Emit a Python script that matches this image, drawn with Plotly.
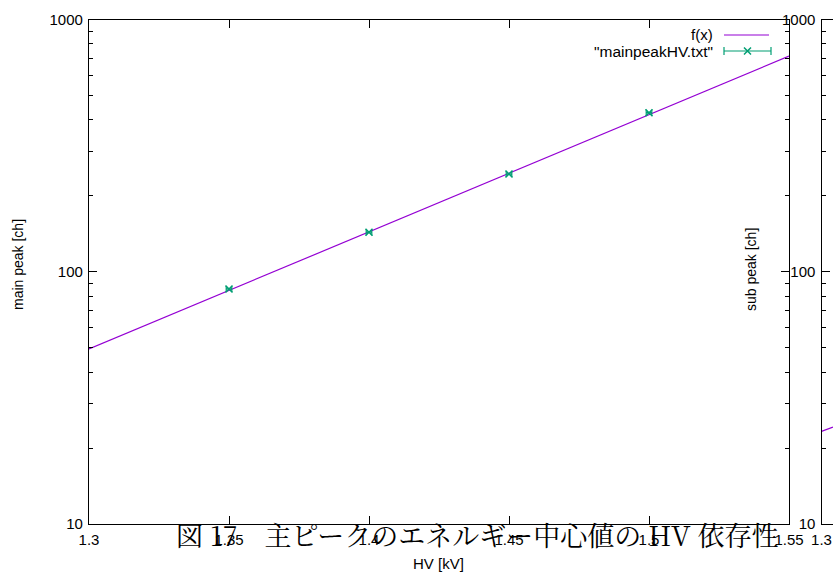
import plotly.graph_objects as go

# ---- data ----
hv = [1.35, 1.40, 1.45, 1.50]
main_peak = [85.5, 143.5, 244.0, 427.0]
hv_err = [0.001, 0.001, 0.001, 0.001]

fit_x = [1.30, 1.55]
fit_y = [49.4, 716.0]

sub_fit_x = [1.300, 1.3043]
sub_fit_y = [23.3, 24.2]

x_ticks = [1.3, 1.35, 1.4, 1.45, 1.5, 1.55]
x_ticklabels = ["1.3", "1.35", "1.4", "1.45", "1.5", "1.55"]
y_ticks = [10, 100, 1000]
y_ticklabels = ["10", "100", "1000"]
y_minor = [20, 30, 40, 50, 60, 70, 80, 90, 200, 300, 400, 500, 600, 700, 800, 900]

W, H = 833, 573
PURPLE = "#9400d3"
GREEN = "#009e73"
FONT = "Liberation Sans, Arial, sans-serif"

def px(x):
    return x / W

def py(y):
    return 1 - y / H

fig = go.Figure()

# main chart
fig.add_trace(go.Scatter(x=fit_x, y=fit_y, mode="lines",
                         line=dict(color=PURPLE, width=1.2),
                         xaxis="x", yaxis="y", showlegend=False))
fig.add_trace(go.Scatter(x=hv, y=main_peak, mode="markers",
                         marker=dict(symbol="x-thin", size=7, color=GREEN,
                                     line=dict(color=GREEN, width=1.5)),
                         error_x=dict(type="data", array=hv_err, color=GREEN,
                                      thickness=1.2, width=3),
                         xaxis="x", yaxis="y", showlegend=False))
# second (cut-off) chart
fig.add_trace(go.Scatter(x=sub_fit_x, y=sub_fit_y, mode="lines",
                         line=dict(color=PURPLE, width=1.2),
                         xaxis="x2", yaxis="y2", showlegend=False))

# legend samples on a full-page pixel axis
LEG = dict(xaxis="x3", yaxis="y3", showlegend=False, hoverinfo="skip")
fig.add_trace(go.Scatter(x=[724, 769], y=[35, 35], mode="lines",
                         line=dict(color=PURPLE, width=1.2), **LEG))
fig.add_trace(go.Scatter(x=[724, 771], y=[51, 51], mode="lines",
                         line=dict(color=GREEN, width=1.2), **LEG))
for cx in (724, 771):
    fig.add_trace(go.Scatter(x=[cx, cx], y=[47, 55], mode="lines",
                             line=dict(color=GREEN, width=1.2), **LEG))
fig.add_trace(go.Scatter(x=[747.5], y=[51], mode="markers",
                         marker=dict(symbol="x-thin", size=7, color=GREEN,
                                     line=dict(color=GREEN, width=1.5)), **LEG))

ydom = [py(524), py(19.5)]
axis_common = dict(showgrid=False, zeroline=False, showline=True, linecolor="black",
                   linewidth=1.3, ticks="inside", tickcolor="black", tickwidth=1,
                   automargin=False,
                   tickfont=dict(family=FONT, size=15, color="black"))
minor = dict(ticks="inside", ticklen=4, tickcolor="black", tickvals=y_minor)

fig.update_layout(
    width=W, height=H,
    margin=dict(l=0, r=0, t=0, b=0),
    paper_bgcolor="white", plot_bgcolor="rgba(0,0,0,0)",
    xaxis=dict(domain=[px(89), px(789)], range=[1.3, 1.55],
               tickvals=x_ticks, ticktext=x_ticklabels, ticklen=8,
               mirror="ticks", anchor="y", ticklabelstandoff=2, **axis_common),
    yaxis=dict(domain=ydom, type="log", range=[1, 3],
               tickvals=y_ticks, ticktext=y_ticklabels, ticklen=8,
               mirror="ticks", anchor="x", ticklabelstandoff=2,
               minor=minor, **axis_common),
    xaxis2=dict(domain=[px(821.5), 1.0], range=[1.3, 1.3043],
                tickvals=[1.3], ticktext=["1.3"], ticklen=8,
                mirror=True, anchor="y2", ticklabelstandoff=2, **axis_common),
    yaxis2=dict(domain=ydom, type="log", range=[1, 3],
                tickvals=y_ticks, ticktext=y_ticklabels, ticklen=8,
                mirror=False, anchor="x2", ticklabelstandoff=2,
                minor=minor, **axis_common),
    xaxis3=dict(domain=[0, 1], range=[0, W], visible=False, fixedrange=True,
                anchor="y3", automargin=False),
    yaxis3=dict(domain=[0, 1], range=[H, 0], visible=False, fixedrange=True,
                anchor="x3", automargin=False),
)

ann = []
ann.append(dict(text="f(x)", x=px(715), y=py(35), xref="paper", yref="paper",
                xanchor="right", yanchor="middle", showarrow=False,
                font=dict(family=FONT, size=15, color="black")))
ann.append(dict(text='"mainpeakHV.txt"', x=px(715), y=py(51), xref="paper", yref="paper",
                xanchor="right", yanchor="middle", showarrow=False,
                font=dict(family=FONT, size=15.5, color="black")))
ann.append(dict(text="main peak [ch]", x=px(18), y=py(265), xref="paper", yref="paper",
                xanchor="center", yanchor="middle", textangle=-90, showarrow=False,
                font=dict(family=FONT, size=14, color="black")))
ann.append(dict(text="sub peak [ch]", x=px(751), y=py(270), xref="paper", yref="paper",
                xanchor="center", yanchor="middle", textangle=-90, showarrow=False,
                font=dict(family=FONT, size=14, color="black")))
ann.append(dict(text="HV [kV]", x=px(438), y=py(563), xref="paper", yref="paper",
                xanchor="center", yanchor="middle", showarrow=False,
                font=dict(family=FONT, size=15, color="black")))
ann.append(dict(text="図 17　主ピークのエネルギー中心値の HV 依存性",
                x=px(477), y=py(534), xref="paper", yref="paper",
                xanchor="center", yanchor="middle", showarrow=False,
                font=dict(family="Noto Serif CJK JP, Noto Sans CJK JP, serif",
                          size=27, color="black")))
fig.update_layout(annotations=ann)

post = (
    "document.documentElement.style.margin='0';"
    "document.documentElement.style.overflow='hidden';"
    "document.body.style.margin='0';"
    "document.body.style.padding='0';"
    "document.body.style.overflow='hidden';"
    "var d=document.getElementById('{plot_id}');"
    "d.style.overflow='hidden';d.style.width='833px';d.style.height='573px';"
    "var svgs=d.querySelectorAll('svg');"
    "for(var i=0;i<svgs.length;i++){svgs[i].style.overflow='hidden';}"
)
fig.write_html("out.html", post_script=post)
